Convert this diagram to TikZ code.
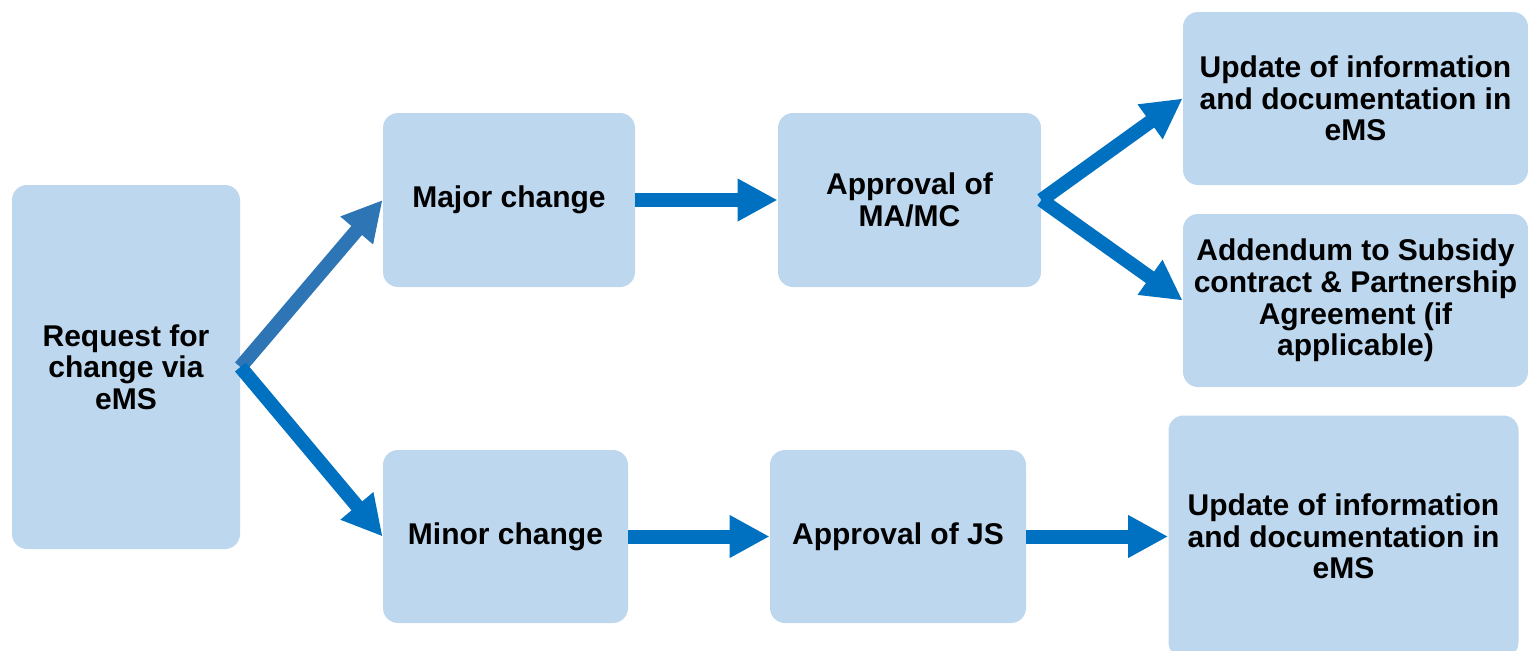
\documentclass[tikz,border=0pt]{standalone}
\usepackage{fontspec}
\setmainfont{Liberation Sans}
\usetikzlibrary{arrows.meta}
\definecolor{boxfill}{HTML}{BDD7EE}
\definecolor{arrowblue}{HTML}{0070C0}
\definecolor{arrowblue2}{HTML}{2E75B6}
\tikzset{
  box/.style={draw=none, fill=boxfill, rounded corners=7.5pt, align=center,
    inner sep=0pt, font=\bfseries\fontsize{15pt}{15.8pt}\selectfont},
  flow/.style={draw=arrowblue, line width=7pt,
    -{Triangle[width=20pt,length=20pt]}, shorten >=0pt},
}
\begin{document}
\begin{tikzpicture}[x=0.5pt,y=-0.5pt]
\useasboundingbox (0,0) rectangle (1528,650);
\node[box, minimum width=114pt, minimum height=182pt] (req) at (126,367) {Request for\\change via\\eMS};
\node[box, minimum width=126pt, minimum height=87pt] (major) at (509,200) {Major change};
\node[box, minimum width=131.5pt, minimum height=87pt] (apma) at (909.5,200) {Approval of\\MA/MC};
\node[box, minimum width=172.5pt, minimum height=86.5pt] (upd1) at (1355.5,98.5) {Update of information\\and documentation in\\eMS};
\node[box, minimum width=172.5pt, minimum height=86.5pt] (add) at (1355.5,300.5) {Addendum to Subsidy\\contract \& Partnership\\Agreement (if\\applicable)};
\node[box, minimum width=122.5pt, minimum height=86.5pt] (minor) at (505.5,536.5) {Minor change};
\node[box, minimum width=128pt, minimum height=86.5pt] (js) at (898,536.5) {Approval of JS};
\node[box, minimum width=175pt, minimum height=121pt] (upd2) at (1343.5,536.5) {Update of information\\and documentation in\\eMS};

\draw[flow, draw=arrowblue2] (req.east) -- (major.west);
\draw[flow] (req.east) -- (minor.west);
\draw[flow] (major.east) -- (apma.west);
\draw[flow] (apma.east) -- (upd1.west);
\draw[flow] (apma.east) -- (add.west);
\draw[flow] (minor.east) -- (js.west);
\draw[flow] (js.east) -- (upd2.west);
\end{tikzpicture}
\end{document}
